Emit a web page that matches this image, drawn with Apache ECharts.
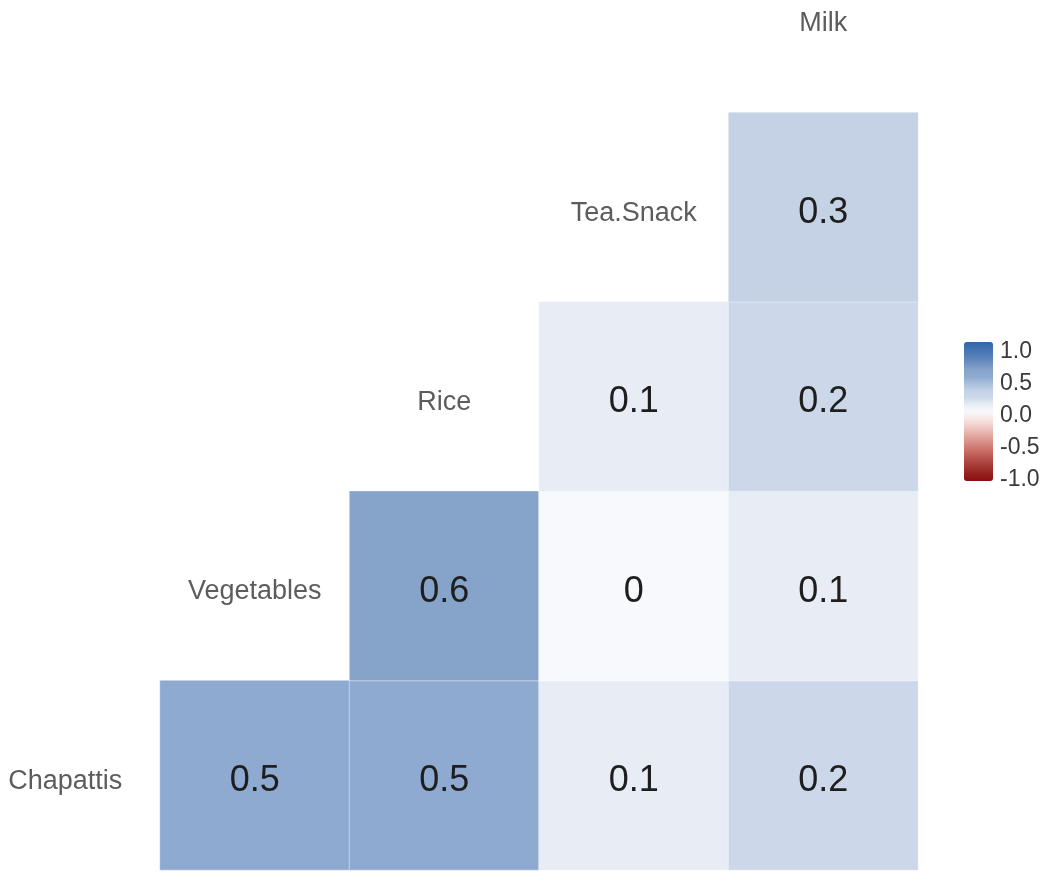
<!DOCTYPE html>
<html>
<head>
<meta charset="utf-8">
<script src="https://cdn.jsdelivr.net/npm/echarts@6/dist/echarts.min.js"></script>
<style>
html,body{margin:0;padding:0;background:#fff;}
#chart{width:1050px;height:885px;}
</style>
</head>
<body>
<div id="chart"></div>
<script>
const variables = ['Chapattis', 'Vegetables', 'Rice', 'Tea.Snack', 'Milk'];
const corrRows = ['Chapattis', 'Chapattis', 'Chapattis', 'Chapattis', 'Vegetables', 'Vegetables', 'Vegetables', 'Rice', 'Rice', 'Tea.Snack'];
const corrCols = ['Vegetables', 'Rice', 'Tea.Snack', 'Milk', 'Rice', 'Tea.Snack', 'Milk', 'Tea.Snack', 'Milk', 'Milk'];
const corrValues = [0.5, 0.5, 0.1, 0.2, 0.6, 0, 0.1, 0.1, 0.2, 0.3];
const legendMin = -1;
const legendMax = 1;
const legendStep = 0.5;
// colour stops from -1.0 to 1.0 in steps of 0.1
const colorStops = [
  '#8A0F0E', '#94201C', '#A2352F', '#B34C45', '#C3655D', '#D27F77', '#DE9A92', '#E8B5AE', '#F0D0CB', '#F7E8E6',
  '#F8F9FC',
  '#E8EDF5', '#CCD8E9', '#C5D2E6', '#A9BFDC', '#8EAAD0', '#86A3CA', '#6B8FC0', '#557FB8', '#4272B1', '#2F66AB'
];

const heatData = corrValues.map((v, i) => [corrCols[i], corrRows[i], v]);
const diagData = variables.map(v => [v, v]);

const chart = echarts.init(document.getElementById('chart'));
chart.setOption({
  animation: false,
  backgroundColor: '#ffffff',
  grid: [
    { left: -29.5, top: -77, width: 947.5, height: 947, outerBoundsMode: 'none', containLabel: false },
    { left: 964, top: 352, width: 29, height: 128, outerBoundsMode: 'none' }
  ],
  xAxis: [
    { type: 'category', data: variables, gridIndex: 0, show: false },
    { type: 'value', gridIndex: 1, show: false }
  ],
  yAxis: [
    { type: 'category', data: variables, gridIndex: 0, show: false },
    {
      type: 'value', gridIndex: 1, min: legendMin, max: legendMax, interval: legendStep,
      position: 'right',
      axisLine: { show: false }, axisTick: { show: false }, splitLine: { show: false },
      axisLabel: {
        margin: 7, color: '#3a3a3a', fontSize: 23, fontFamily: 'Liberation Sans, Arial, sans-serif',
        formatter: v => v.toFixed(1)
      }
    }
  ],
  visualMap: {
    type: 'continuous',
    min: legendMin, max: legendMax,
    seriesIndex: 0, dimension: 2,
    orient: 'vertical',
    left: 964, top: 342,
    itemWidth: 29, itemHeight: 139,
    padding: 0,
    calculable: false,
    text: ['', ''],
    showLabel: false,
    inRange: { color: colorStops }
  },
  series: [
    {
      type: 'heatmap',
      xAxisIndex: 0, yAxisIndex: 0,
      data: heatData,
      itemStyle: { borderColor: 'rgba(255,255,255,0.4)', borderWidth: 1 },
      label: {
        show: true, fontSize: 36, color: '#1e1e1e', offset: [0, 6],
        fontFamily: 'Liberation Sans, Arial, sans-serif',
        formatter: p => String(p.value[2])
      },
      emphasis: { disabled: true }
    },
    {
      type: 'scatter',
      xAxisIndex: 0, yAxisIndex: 0,
      data: diagData,
      symbolSize: 1,
      itemStyle: { color: 'rgba(0,0,0,0)' },
      label: {
        show: true, position: 'inside', fontSize: 27, color: '#333333', offset: [0, 6],
        fontFamily: 'Liberation Sans, Arial, sans-serif',
        formatter: p => p.value[0]
      },
      emphasis: { disabled: true },
      silent: true
    },
    {
      type: 'line', xAxisIndex: 1, yAxisIndex: 1, data: [], silent: true
    }
  ]
});
</script>
</body>
</html>
